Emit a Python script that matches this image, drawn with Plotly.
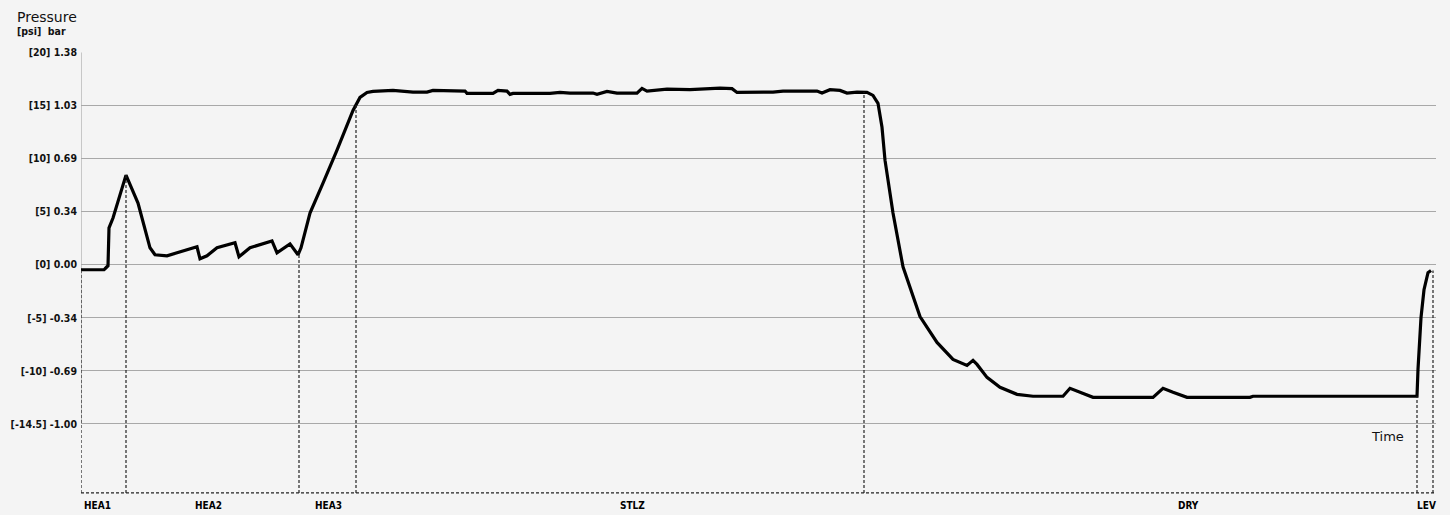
"""Pressure trace over process phases, recreated with Plotly."""

import numpy as np
import plotly.graph_objects as go

# ── Data ──────────────────────────────────────────────────────────────────
# time in arbitrary units, pressure in psi
time = [
    0, 23, 25, 27, 28, 32, 45, 57, 69, 74, 86, 99, 116, 119, 126, 136, 154, 158,
    169, 191, 196, 209, 215, 217, 220, 229, 242, 256, 272, 279, 286, 292, 312,
    332, 346, 352, 384, 386, 412, 417, 426, 429, 432, 469, 479, 489, 512, 516,
    526, 536, 556, 561, 566, 586, 609, 639, 651, 656, 692, 702, 736, 741, 749,
    759, 766, 776, 786, 792, 797, 799, 801, 804, 808, 812, 822, 839, 856, 872,
    886, 892, 896, 906, 919, 936, 952, 982, 989, 996, 1012, 1072, 1082, 1092,
    1106, 1169, 1172, 1336, 1337, 1340, 1343, 1347, 1350,
]
pressure = [
    -0.47, -0.47, -0.28, -0.09, 3.47, 4.41, 8.45, 5.82, 1.60, 0.94, 0.85, 1.22,
    1.69, 0.56, 0.85, 1.60, 2.07, 0.75, 1.60, 2.25, 1.13, 1.97, 1.13, 0.94, 1.60,
    4.88, 7.70, 10.80, 14.55, 15.77, 16.24, 16.34, 16.43, 16.27, 16.27, 16.43,
    16.37, 16.15, 16.15, 16.43, 16.37, 16.06, 16.15, 16.15, 16.24, 16.18, 16.18,
    16.06, 16.34, 16.18, 16.18, 16.62, 16.37, 16.55, 16.50, 16.65, 16.60, 16.24,
    16.27, 16.37, 16.37, 16.18, 16.50, 16.43, 16.18, 16.27, 16.24, 15.96, 15.21,
    14.27, 12.96, 9.86, 7.30, 4.88, -0.19, -4.88, -7.32, -8.92, -9.48, -9.01,
    -9.39, -10.61, -11.55, -12.21, -12.39, -12.39, -11.64, -11.92, -12.49,
    -12.49, -11.64, -12.02, -12.49, -12.49, -12.39, -12.39, -9.86, -4.98, -2.35,
    -0.75, -0.54,
]

phase_bounds = [0, 45, 218, 275, 783, 1336, 1352]
phase_names = ["HEA1", "HEA2", "HEA3", "STLZ", "DRY", "LEV"]
phase_label_x = [16, 127, 247, 551, 1107, 1345]

tick_psi = [20, 15, 10, 5, 0, -5, -10, -15]
tick_text = [
    "[20] 1.38", "[15] 1.03", "[10] 0.69", "[5] 0.34",
    "[0] 0.00", "[-5] -0.34", "[-10] -0.69", "[-14.5] -1.00",
]

BG = "#f4f4f4"
GRID = "#a8a8a8"
INK = "#000000"
TEXT = "#111111"
Y_MIN, Y_MAX = -21.6, 20.05
X_MAX = 1355

fig = go.Figure()
fig.add_trace(
    go.Scatter(
        x=time, y=pressure, mode="lines",
        line=dict(color=INK, width=3.2), hoverinfo="skip", showlegend=False,
    )
)

# dashed phase boundaries from the curve down to the baseline
bound_tops = np.interp(phase_bounds, time, pressure)
for bx, top in zip(phase_bounds, bound_tops):
    fig.add_shape(
        type="line", x0=bx, x1=bx, y0=Y_MIN + 0.1, y1=top,
        line=dict(color="#222222", width=1.2, dash="3px,2px"),
    )
fig.add_shape(
    type="line", x0=0, x1=X_MAX, y0=Y_MIN + 0.1, y1=Y_MIN + 0.1,
    line=dict(color="#222222", width=1.2, dash="3px,2px"),
)
# solid left axis line (gray)
fig.add_shape(
    type="line", x0=0, x1=0, y0=-15, y1=20,
    line=dict(color=GRID, width=1.2), layer="below",
)

for name, lx in zip(phase_names, phase_label_x):
    fig.add_annotation(
        x=lx, y=0, xref="x", yref="paper", yanchor="top", yshift=-4,
        text=name, showarrow=False,
        font=dict(family="DejaVu Sans Condensed, Liberation Sans Narrow",
                  size=10, color=INK, weight="bold"),
    )

fig.add_annotation(
    x=1306, y=-16.15, xref="x", yref="y", text="Time", showarrow=False,
    font=dict(family="DejaVu Sans", size=13, color=TEXT),
)
fig.add_annotation(
    x=-0.049, y=1.079, xref="paper", yref="paper", xanchor="left",
    yanchor="middle", text="Pressure", showarrow=False,
    font=dict(family="DejaVu Sans", size=14, color=TEXT),
)
fig.add_annotation(
    x=-0.049, y=1.047, xref="paper", yref="paper", xanchor="left",
    yanchor="middle", text="[psi]  bar", showarrow=False,
    font=dict(family="DejaVu Sans Condensed, DejaVu Sans", size=10.5,
              color=TEXT, weight="bold"),
)

fig.update_layout(
    width=1450, height=515,
    margin=dict(l=81, r=14, t=52, b=21, autoexpand=False),
    paper_bgcolor=BG, plot_bgcolor=BG,
    showlegend=False,
    xaxis=dict(range=[0, X_MAX], showgrid=False, zeroline=False,
               showticklabels=False, showline=False),
    yaxis=dict(
        range=[Y_MIN, Y_MAX], tickvals=tick_psi, ticktext=tick_text,
        showgrid=True, gridcolor=GRID, gridwidth=1.2,
        zeroline=False, showline=False, ticks="", automargin=False,
        tickfont=dict(family="DejaVu Sans Condensed, DejaVu Sans", size=10.5,
                      color=TEXT, weight="bold"),
        ticklabelstandoff=3,
    ),
)

fig.write_html(
    "out.html",
    config={"displayModeBar": False},
    post_script="document.body.style.margin='0';",
)
